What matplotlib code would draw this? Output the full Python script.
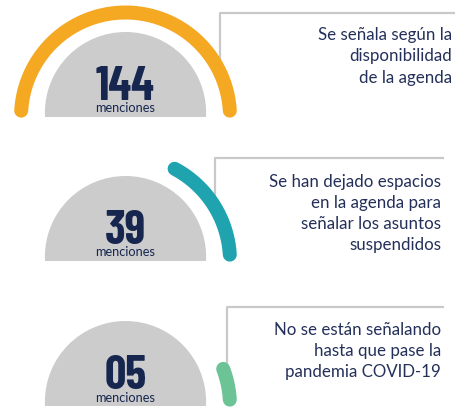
import numpy as np
import matplotlib
matplotlib.use("Agg")
import matplotlib.pyplot as plt
from matplotlib.patches import Circle, Rectangle

# ---- data ----
values = [144, 39, 5]
value_labels = [f"{v:02d}" for v in values]
unit_label = "menciones"
descriptions = [
    "Se señala según la\ndisponibilidad\nde la agenda",
    "Se han dejado espacios\nen la agenda para\nseñalar los asuntos\nsuspendidos",
    "No se están señalando\nhasta que pase la\npandemia COVID-19",
]
gauge_fill = [1.0, 0.338, 0.10]   # share of the half gauge
colors = ["#f5a822", "#1ea3af", "#6cc496"]

# ---- layout (pixel coordinates) ----
W, H = 462, 407
fig = plt.figure(figsize=(W / 100, H / 100), dpi=100)
ax = fig.add_axes([0, 0, 1, 1])
ax.set_xlim(0, W)
ax.set_ylim(H, 0)
ax.axis("off")

cx = 125.5
base_y = [117, 261, 406]
arc_r = 104.5
arc_lw = 14 * 72 / 100
grey_r = 80.6
grey_dy = 4.4
start_deg, span_deg = 3.5, 173.0
navy = "#16264f"
line_col = "#c9c9c9"

box_x = [219.5, 215, 226.7]
box_top = [13, 158, 306.5]
box_bottom = [70, 207, 365]
box_right = [455, 444, 444]
text_right = [452, 441, 441]
text_cy = [56.5, 213.5, 351]
text_ls = [1.44, 1.37, 1.37]

for i, v in enumerate(values):
    by = base_y[i]
    # callout lines
    ax.plot([box_x[i], box_x[i], box_right[i]],
            [box_bottom[i], box_top[i], box_top[i]],
            color=line_col, lw=1.6, zorder=1, solid_capstyle="butt")
    # grey dome
    circ = Circle((cx, by - grey_dy), grey_r, facecolor="#cccccc",
                  edgecolor="none", zorder=2)
    ax.add_patch(circ)
    clip = Rectangle((cx - 100, by - 100), 200, 100, transform=ax.transData)
    circ.set_clip_path(clip)
    # coloured gauge arc
    th = np.radians(np.linspace(start_deg, start_deg + gauge_fill[i] * span_deg, 200))
    ax.plot(cx + arc_r * np.cos(th), by - arc_r * np.sin(th),
            color=colors[i], lw=arc_lw, solid_capstyle="round", zorder=3)
    # number and unit
    ax.text(cx, by - 17, value_labels[i], ha="center", va="baseline",
            fontsize=34, fontweight="bold", family="Barlow Condensed",
            color=navy, zorder=4)
    ax.text(cx, by - 8.5, unit_label, ha="center", va="center",
            fontsize=9.2, family="Lato", color=navy, zorder=4)
    # description
    ax.text(text_right[i], text_cy[i], descriptions[i], ha="right", va="center",
            fontsize=12.2, family="Lato", color="#24305a",
            linespacing=text_ls[i], zorder=4)

fig.savefig("out.png", dpi=100)
